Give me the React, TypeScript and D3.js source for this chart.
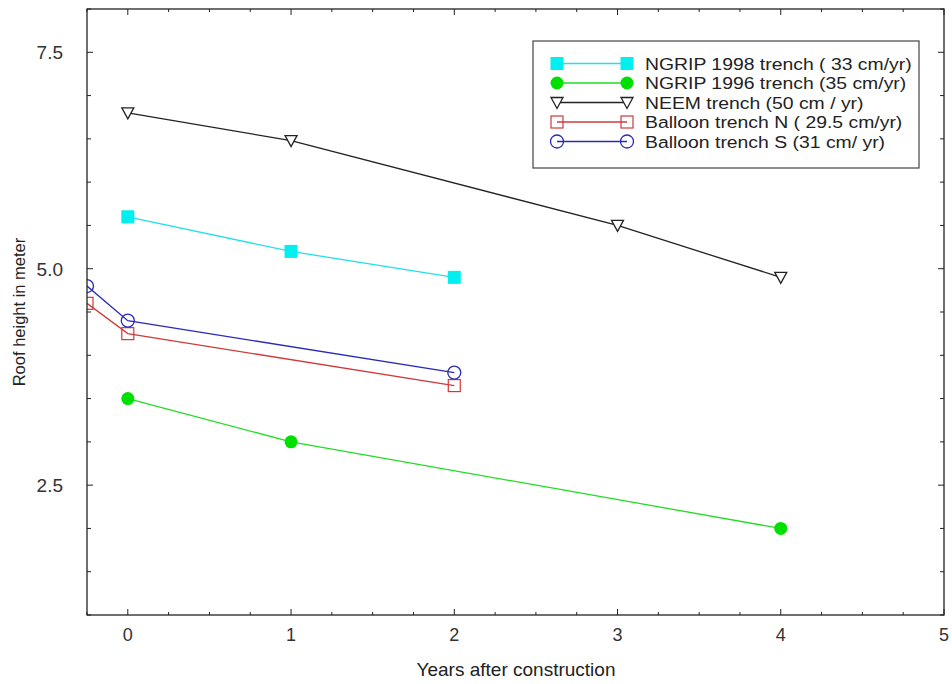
import React from "react";
import * as d3 from "d3";

// values
const ngrip98Years = [0, 1, 2];
const ngrip98Height = [5.6, 5.2, 4.9];
const ngrip96Years = [0, 1, 4];
const ngrip96Height = [3.5, 3.0, 2.0];
const neemYears = [0, 1, 3, 4];
const neemHeight = [6.8, 6.48, 5.5, 4.9];
const balloonNYears = [-0.25, 0, 2];
const balloonNHeight = [4.6, 4.25, 3.65];
const balloonSYears = [-0.25, 0, 2];
const balloonSHeight = [4.8, 4.4, 3.8];

const xTickLabels = [0, 1, 2, 3, 4, 5];
const yTickLabels = [2.5, 5.0, 7.5];

type Series = {
  name: string;
  years: number[];
  heights: number[];
  color: string;
  marker: "fsquare" | "fcircle" | "tri" | "square" | "circle";
};

const series: Series[] = [
  { name: "NGRIP 1998 trench ( 33 cm/yr)", years: ngrip98Years, heights: ngrip98Height, color: "#22e0e6", marker: "fsquare" },
  { name: "NGRIP 1996 trench (35 cm/yr)", years: ngrip96Years, heights: ngrip96Height, color: "#22dd22", marker: "fcircle" },
  { name: "NEEM trench (50 cm / yr)", years: neemYears, heights: neemHeight, color: "#222222", marker: "tri" },
  { name: "Balloon trench N ( 29.5 cm/yr)", years: balloonNYears, heights: balloonNHeight, color: "#d03a3a", marker: "square" },
  { name: "Balloon trench S (31 cm/ yr)", years: balloonSYears, heights: balloonSHeight, color: "#2a2ab8", marker: "circle" },
];

const left = 87, right = 944, top = 9, bottom = 615;
const font = "'Liberation Sans', Arial, sans-serif";

const x = d3.scaleLinear().domain([-0.25, 5]).range([left, right]);
const y = d3.scaleLinear().domain([1, 8]).range([bottom, top]);

function Marker({ kind, cx, cy, color }: { kind: Series["marker"]; cx: number; cy: number; color: string }) {
  switch (kind) {
    case "fsquare":
      return <rect x={cx - 6.5} y={cy - 6.5} width={13} height={13} fill="#00f0f0" />;
    case "fcircle":
      return <circle cx={cx} cy={cy} r={6.5} fill="#00e000" />;
    case "tri":
      return (
        <path
          d={`M${cx - 6},${cy - 5} L${cx + 6},${cy - 5} L${cx},${cy + 6} Z`}
          fill="white"
          stroke={color}
          strokeWidth={1.3}
        />
      );
    case "square":
      return <rect x={cx - 6} y={cy - 6} width={12} height={12} fill="none" stroke={color} strokeWidth={1.2} />;
    case "circle":
      return <circle cx={cx} cy={cy} r={6.5} fill="none" stroke={color} strokeWidth={1.3} />;
  }
}

export default function App() {
  const line = d3
    .line<[number, number]>()
    .x((d) => x(d[0]))
    .y((d) => y(d[1]));

  const xMinor = d3.range(-0.25, 5.001, 0.25);
  const yMinor = d3.range(1, 8.001, 0.5);
  const isMajorX = (v: number) => Math.abs(v - Math.round(v)) < 1e-6;
  const isMajorY = (v: number) => yTickLabels.some((t) => Math.abs(t - v) < 1e-6);

  const legX = 533, legY = 41, legW = 386, legH = 127, rowH = 19.5;

  return (
    <svg width={952} height={684} style={{ position: "absolute", left: 0, top: 0, background: "white" }}>
      <defs>
        <clipPath id="plot">
          <rect x={left} y={top} width={right - left} height={bottom - top} />
        </clipPath>
      </defs>
      <rect width={952} height={684} fill="white" />

      {/* data */}
      <g clipPath="url(#plot)">
        {series.map((s) => {
          const pts = s.years.map((yr, i) => [yr, s.heights[i]] as [number, number]);
          return (
            <g key={s.name}>
              <path d={line(pts) ?? ""} fill="none" stroke={s.color} strokeWidth={1.3} />
              {pts.map((p, i) => (
                <Marker key={i} kind={s.marker} cx={x(p[0])} cy={y(p[1])} color={s.color} />
              ))}
            </g>
          );
        })}
      </g>

      {/* frame and ticks */}
      <rect x={left} y={top} width={right - left} height={bottom - top} fill="none" stroke="#222" strokeWidth={1.3} />
      {xMinor.map((v, i) => {
        const len = isMajorX(v) ? 6 : 3;
        return (
          <g key={"xt" + i} stroke="#222" strokeWidth={1}>
            <line x1={x(v)} x2={x(v)} y1={bottom} y2={bottom - len} />
            <line x1={x(v)} x2={x(v)} y1={top} y2={top + len} />
          </g>
        );
      })}
      {yMinor.map((v, i) => {
        const len = isMajorY(v) ? 6 : 4;
        return (
          <g key={"yt" + i} stroke="#222" strokeWidth={1}>
            <line x1={left} x2={left + len} y1={y(v)} y2={y(v)} />
            <line x1={right} x2={right - len} y1={y(v)} y2={y(v)} />
          </g>
        );
      })}

      {/* tick labels */}
      {xTickLabels.map((v) => (
        <text key={"xl" + v} x={x(v)} y={641} textAnchor="middle" fontFamily={font} fontSize={18} fill="#333">
          {v}
        </text>
      ))}
      {yTickLabels.map((v) => (
        <text key={"yl" + v} x={63} y={y(v) + 7} textAnchor="end" fontFamily={font} fontSize={19} fill="#333">
          {v.toFixed(1)}
        </text>
      ))}

      {/* axis titles */}
      <text x={516} y={676} textAnchor="middle" fontFamily={font} fontSize={19} fill="#222">
        Years after construction
      </text>
      <text
        transform={`translate(25,312) rotate(-90)`}
        textAnchor="middle"
        fontFamily={font}
        fontSize={16.5}
        fill="#222"
      >
        Roof height in meter
      </text>

      {/* legend */}
      <rect x={legX} y={legY} width={legW} height={legH} fill="white" stroke="#444" strokeWidth={1.2} />
      {series.map((s, i) => {
        const cy = 63.5 + i * rowH;
        return (
          <g key={"lg" + i}>
            <line x1={557} x2={627} y1={cy} y2={cy} stroke={s.color} strokeWidth={1.3} />
            <Marker kind={s.marker} cx={557} cy={cy} color={s.color} />
            <Marker kind={s.marker} cx={627} cy={cy} color={s.color} />
            <text
              transform={`translate(645,${cy + 6}) scale(1.14,1)`}
              fontFamily={font}
              fontSize={17}
              fill="#222"
            >
              {s.name}
            </text>
          </g>
        );
      })}
    </svg>
  );
}
